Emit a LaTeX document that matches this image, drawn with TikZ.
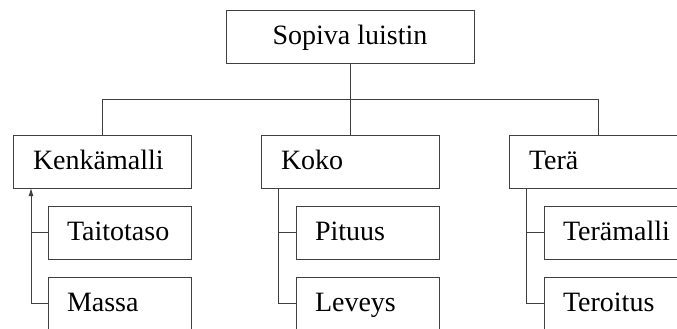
\documentclass[tikz,border=0pt]{standalone}
\usepackage{fontspec}
\setmainfont{Liberation Serif}
\usetikzlibrary{positioning,arrows.meta}
\hyphenpenalty=10000
\tikzstyle{raami} = [draw=black!75, line width=0.9pt, rectangle, outer sep=0pt, minimum height=53pt, inner ysep=0pt, text height=20pt, text depth=4pt, font=\fontsize{28}{34}\selectfont]
\tikzstyle{paa} = [raami, minimum width=248pt]
\tikzstyle{osa} = [raami, text width=138pt, inner xsep=20pt, align=flush left]
\tikzstyle{alaosa} = [raami, text width=105pt, inner xsep=19pt, align=flush left]
\tikzstyle{viiva} = [draw=black!75, line width=0.9pt]
\begin{document}
\begin{tikzpicture}[x=1pt,y=-1pt]
	\useasboundingbox (0,0) rectangle (677,329);
	\clip (0,0) rectangle (677,329);
	% ylin taso
	\node[paa](luistin) at (350,37) {Sopiva luistin};
	\coordinate (haara) at (350,99);
	% toinen taso
	\node[osa](kenka) at (102,161.5) {Kenkämalli};
	\node[osa, right=70pt of kenka](koko) {Koko};
	\node[osa, right=70pt of koko](tera) {Terä};
	% kolmas taso
	\node[alaosa, below right=18pt and 35pt of kenka.south west](taito) {Taitotaso};
	\node[alaosa, below=18pt of taito](massa) {Massa};
	\node[alaosa, below right=18pt and 35pt of koko.south west](pituus) {Pituus};
	\node[alaosa, below=18pt of pituus](leveys) {Leveys};
	\node[alaosa, below right=18pt and 35pt of tera.south west](teramalli) {Terämalli};
	\node[alaosa, below=18pt of teramalli](teroitus) {Teroitus};
	% yhdysviivat
	\draw[viiva] (luistin.south) -- (koko.north);
	\draw[viiva] (kenka.north) -- (kenka.north |- haara) -- (tera.north |- haara) -- (tera.north);
	\coordinate (kenkaviiva) at ([xshift=18pt]kenka.south west);
	\coordinate (kokoviiva) at ([xshift=17pt]koko.south west);
	\coordinate (teraviiva) at ([xshift=17pt]tera.south west);
	\draw[viiva, -{Latex[length=8pt,width=5pt]}] (massa.west) -| (kenkaviiva);
	\draw[viiva] (taito.west) -- (taito.west -| kenkaviiva);
	\draw[viiva] (leveys.west) -| (kokoviiva);
	\draw[viiva] (pituus.west) -- (pituus.west -| kokoviiva);
	\draw[viiva] (teroitus.west) -| (teraviiva);
	\draw[viiva] (teramalli.west) -- (teramalli.west -| teraviiva);
\end{tikzpicture}
\end{document}
